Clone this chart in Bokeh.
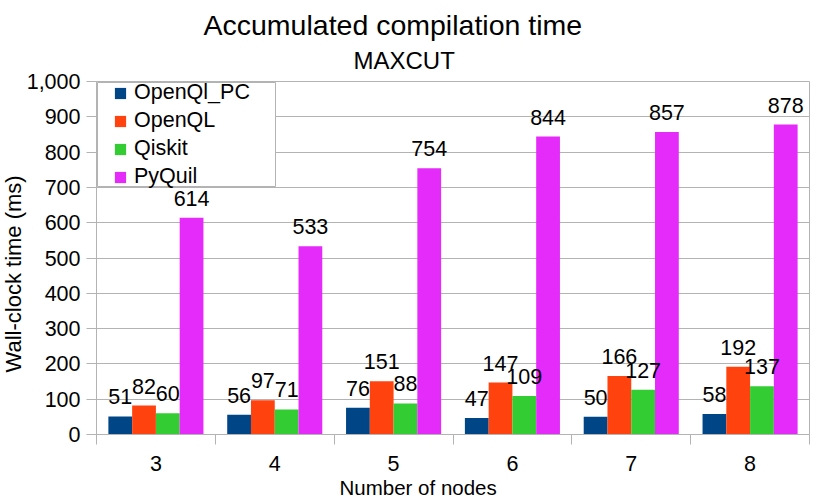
from bokeh.plotting import figure
from bokeh.models import (ColumnDataSource, Range1d, FixedTicker, NumeralTickFormatter,
                          Legend, LegendItem, LabelSet, Title, BoxAnnotation)
from bokeh.core.properties import value
from bokeh.transform import dodge
from bokeh.embed import file_html
from bokeh.resources import INLINE

# ---- data ----
nodes = [3, 4, 5, 6, 7, 8]
series_names = ["OpenQl_PC", "OpenQL", "Qiskit", "PyQuil"]
openql_pc = [51, 56, 76, 47, 50, 58]
openql = [82, 97, 151, 147, 166, 192]
qiskit = [60, 71, 88, 109, 127, 137]
pyquil = [614, 533, 754, 844, 857, 878]
y_ticks = [0, 100, 200, 300, 400, 500, 600, 700, 800, 900, 1000]

title_text = "Accumulated compilation time"
subtitle_text = "MAXCUT"
x_title = "Number of nodes"
y_title = "Wall-clock time (ms)"

colors = ["#004586", "#ff420e", "#33cc33", "#e52bfa"]
offsets = [-0.3, -0.1, 0.1, 0.3]
FONT = "Liberation Sans"
GRAY = "#b3b3b3"
FS = "21.5px"

p = figure(width=830, height=502, output_backend="svg", toolbar_location=None,
           x_range=Range1d(nodes[0] - 0.5, nodes[-1] + 0.5), y_range=Range1d(0, 1000),
           min_border_left=96, min_border_right=21, min_border_top=81, min_border_bottom=68,
           background_fill_color="white", border_fill_color="white")
p.title.visible = False
p.outline_line_color = GRAY

src = ColumnDataSource(dict(x=nodes, s0=openql_pc, s1=openql, s2=qiskit, s3=pyquil,
                            t0=[str(v) for v in openql_pc], t1=[str(v) for v in openql],
                            t2=[str(v) for v in qiskit], t3=[str(v) for v in pyquil]))

renderers = []
for i, name in enumerate(series_names):
    r = p.vbar(x=dodge("x", offsets[i]), top="s%d" % i, width=0.2, source=src,
               fill_color=colors[i], line_color=None)
    renderers.append(r)
    p.add_layout(LabelSet(x=dodge("x", offsets[i]), y="s%d" % i, text="t%d" % i, source=src,
                          y_offset=12, text_align="center", text_baseline="alphabetic",
                          text_font=value(FONT), text_font_size=FS, text_color="black"))

# axes
minor = [n - 0.5 for n in nodes] + [nodes[-1] + 0.5]
p.xaxis.ticker = FixedTicker(ticks=nodes, minor_ticks=minor)
p.xaxis.major_tick_out = 0
p.xaxis.major_tick_in = 0
p.xaxis.minor_tick_out = 10
p.xaxis.minor_tick_in = 0
p.xaxis.minor_tick_line_color = GRAY
p.xaxis.axis_line_color = GRAY
p.xaxis.major_label_standoff = 11
p.xaxis.major_label_text_font = FONT
p.xaxis.major_label_text_font_size = FS
p.xaxis.major_label_text_color = "black"

p.yaxis.ticker = FixedTicker(ticks=y_ticks)
p.yaxis.formatter = NumeralTickFormatter(format="0,0")
p.yaxis.major_tick_out = 10
p.yaxis.major_tick_in = 0
p.yaxis.minor_tick_line_color = None
p.yaxis.major_tick_line_color = GRAY
p.yaxis.axis_line_color = GRAY
p.yaxis.major_label_standoff = 6
p.yaxis.major_label_text_font = FONT
p.yaxis.major_label_text_font_size = FS
p.yaxis.major_label_text_color = "black"

p.xgrid.visible = False
p.ygrid.ticker = FixedTicker(ticks=y_ticks)
p.ygrid.grid_line_color = GRAY

# legend background box
p.add_layout(BoxAnnotation(left=1, right=179, top=352, bottom=248,
                           left_units="screen", right_units="screen",
                           top_units="screen", bottom_units="screen",
                           fill_color="white", fill_alpha=1.0,
                           line_color=GRAY, line_width=1, line_alpha=1.0))

legend = Legend(items=[LegendItem(label=n, renderers=[r]) for n, r in zip(series_names, renderers)],
                location=(17, 245), padding=4, spacing=3, label_height=23, glyph_height=14,
                glyph_width=14, label_standoff=7, border_line_color=None,
                background_fill_alpha=0.0, label_text_font=FONT, label_text_font_size=FS,
                label_text_color="black", margin=0)
p.add_layout(legend, "center")

# titles
p.add_layout(Title(text=subtitle_text, align="left", offset=257, standoff=15,
                   text_font=FONT, text_font_size="24px", text_font_style="normal",
                   text_color="black"), "above")
p.add_layout(Title(text=title_text, align="left", offset=107, standoff=-6,
                   text_font=FONT, text_font_size="28.5px", text_font_style="normal",
                   text_color="black"), "above")
p.add_layout(Title(text=x_title, align="left", offset=243, standoff=0,
                   text_font=FONT, text_font_size="20.5px", text_font_style="normal",
                   text_color="black"), "below")
p.add_layout(Title(text=y_title, align="left", offset=62, standoff=-4,
                   text_font=FONT, text_font_size="22px", text_font_style="normal",
                   text_color="black"), "left")

open("out.html", "w").write(file_html(p, INLINE))
